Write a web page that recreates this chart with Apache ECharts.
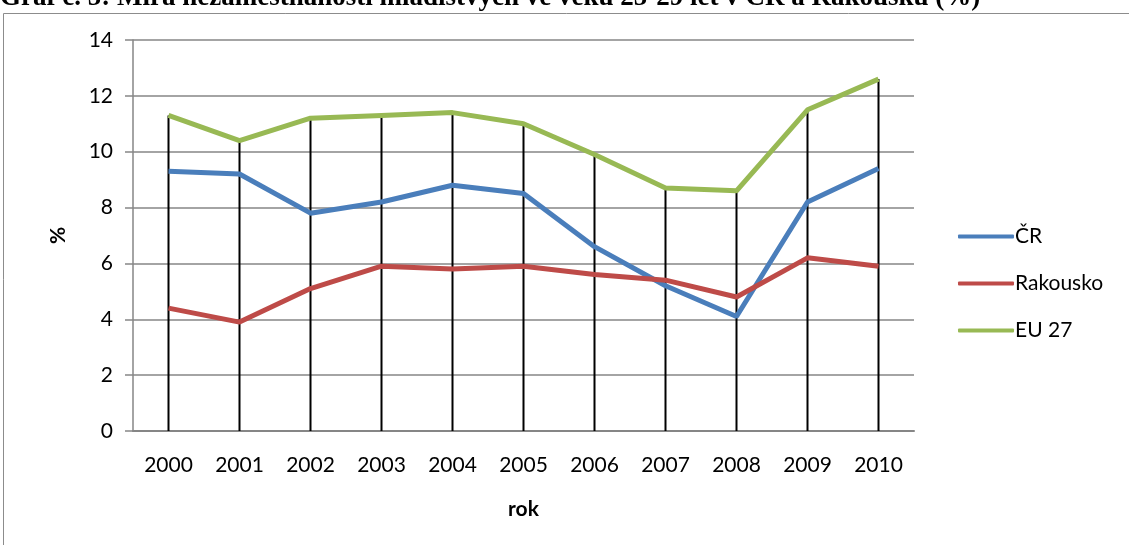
<!DOCTYPE html>
<html>
<head>
<meta charset="utf-8">
<script src="https://cdn.jsdelivr.net/npm/echarts@6/dist/echarts.min.js"></script>
<style>
  html, body { margin: 0; padding: 0; background: #fff; }
  #main { width: 1129px; height: 545px; }
</style>
</head>
<body>
<div id="main"></div>
<script>
// roky a hodnoty (%)
var years = ['2000', '2001', '2002', '2003', '2004', '2005', '2006', '2007', '2008', '2009', '2010'];
var cr = [9.3, 9.2, 7.8, 8.2, 8.8, 8.5, 6.6, 5.2, 4.1, 8.2, 9.4];
var rakousko = [4.4, 3.9, 5.1, 5.9, 5.8, 5.9, 5.6, 5.4, 4.8, 6.2, 5.9];
var eu27 = [11.3, 10.4, 11.2, 11.3, 11.4, 11.0, 9.9, 8.7, 8.6, 11.5, 12.6];
var yTicks = [0, 2, 4, 6, 8, 10, 12, 14];

// svislé spojnice od nejvyšší hodnoty k ose
var drop = years.map(function (y, i) {
    return Math.max(cr[i], rakousko[i], eu27[i]);
});

var font = 'Lato, "Open Sans", sans-serif';
var chart = echarts.init(document.getElementById('main'));

chart.setOption({
    animation: false,
    graphic: [
        {
            type: 'rect',
            shape: { x: 3.5, y: 13.5, width: 1200, height: 600 },
            style: { fill: 'none', stroke: '#8c8c8c', lineWidth: 1 },
            z: 0
        },
        {
            type: 'text',
            left: 0,
            top: -15,
            style: {
                text: 'Graf č. 5: Míra nezaměstnanosti mladistvých ve věku 25-29 let v ČR a Rakousku (%)',
                font: 'bold 27px "Liberation Serif", "DejaVu Serif", serif',
                fill: '#000'
            }
        }
    ],
    grid: { left: 133, right: 215, top: 40, bottom: 114 },
    legend: {
        orient: 'vertical',
        left: 953,
        top: 221,
        itemWidth: 56,
        itemHeight: 4,
        itemGap: 26,
        icon: 'roundRect',
        data: ['ČR', 'Rakousko', 'EU 27'],
        textStyle: { fontFamily: font, fontSize: 21, color: '#000', padding: [0, 0, 0, -4] }
    },
    xAxis: {
        type: 'category',
        data: years,
        name: 'rok',
        nameLocation: 'middle',
        nameGap: 68,
        nameTextStyle: { fontFamily: font, fontSize: 21, fontWeight: 'bold', color: '#000' },
        axisLine: { lineStyle: { color: '#868686', width: 2 } },
        axisTick: { show: false },
        axisLabel: { fontFamily: font, fontSize: 21, color: '#000', margin: 24 }
    },
    yAxis: {
        type: 'value',
        min: yTicks[0],
        max: yTicks[yTicks.length - 1],
        interval: 2,
        name: '%',
        nameLocation: 'middle',
        nameGap: 64,
        nameRotate: 90,
        nameTextStyle: { fontFamily: font, fontSize: 21, fontWeight: 'bold', color: '#000' },
        axisLine: { show: true, lineStyle: { color: '#868686', width: 1.5 } },
        axisTick: { show: true, length: 8, lineStyle: { color: '#868686', width: 1.5 } },
        axisLabel: { fontFamily: font, fontSize: 21, color: '#000', margin: 20 },
        splitLine: { lineStyle: { color: '#868686', width: 1.5 } }
    },
    series: [
        {
            name: 'ČR', type: 'line', data: cr,
            symbol: 'none', color: '#4a7ebb',
            lineStyle: { width: 5, color: '#4a7ebb' }
        },
        {
            name: 'Rakousko', type: 'line', data: rakousko,
            symbol: 'none', color: '#be4b48',
            lineStyle: { width: 5, color: '#be4b48' }
        },
        {
            name: 'EU 27', type: 'line', data: eu27,
            symbol: 'none', color: '#98b954',
            lineStyle: { width: 5, color: '#98b954' }
        },
        {
            name: 'spojnice', type: 'bar', data: drop,
            barWidth: 2, itemStyle: { color: '#000' },
            silent: true, z: 3
        }
    ]
});
</script>
</body>
</html>
